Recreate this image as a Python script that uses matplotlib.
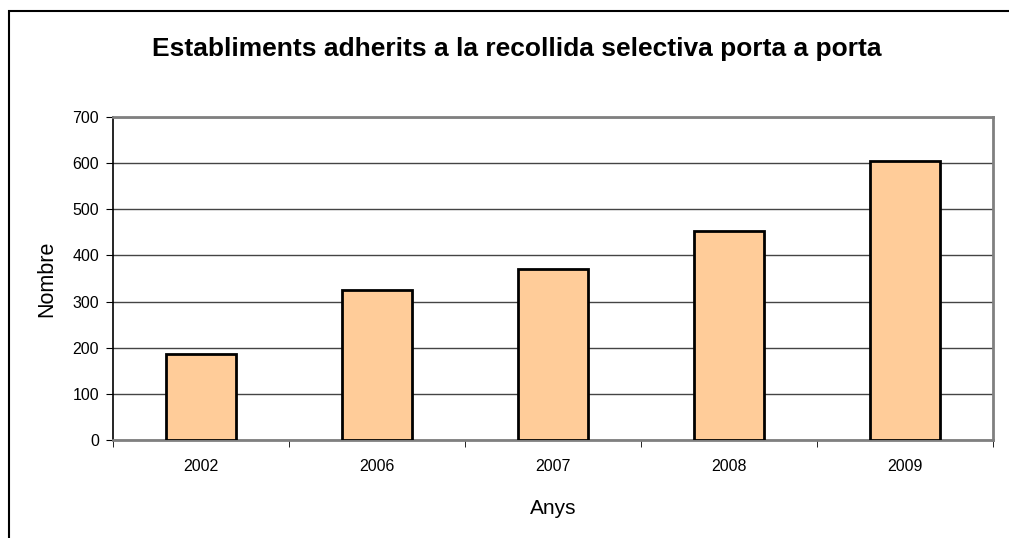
import matplotlib.pyplot as plt
import numpy as np
from matplotlib.patches import Rectangle

plt.rcParams['font.family'] = ['Liberation Sans', 'DejaVu Sans']

anys = ['2002', '2006', '2007', '2008', '2009']
establiments = [187, 325, 370, 453, 604]

fig = plt.figure(figsize=(10.09, 5.38), dpi=100)
ax = fig.add_axes([113 / 1009, 1 - 440 / 538, (993 - 113) / 1009, (440 - 117) / 538])

x = np.arange(len(anys))
ax.bar(x, establiments, width=0.4, color='#ffcc99', edgecolor='black', linewidth=2, zorder=3)

ax.set_xlim(-0.5, len(anys) - 0.5)
ax.set_ylim(0, 700)
ax.set_yticks(range(0, 701, 100))
ax.yaxis.grid(True, color='#444444', linewidth=1, zorder=0)

ax.set_xticks(x)
ax.set_xticklabels(anys)
ax.set_xticks(np.arange(-0.5, len(anys)), minor=True)
ax.tick_params(axis='x', which='major', length=0, pad=14, labelsize=11.5)
ax.tick_params(axis='x', which='minor', length=5, direction='out', color='black')
ax.tick_params(axis='y', length=5, direction='out', pad=5, labelsize=11.5)

for s in ['top', 'right']:
    ax.spines[s].set_color('#808080')
    ax.spines[s].set_linewidth(2)
ax.spines['left'].set_color('black')
ax.spines['bottom'].set_color('#808080')
ax.spines['left'].set_linewidth(1.2)
ax.spines['bottom'].set_linewidth(2)

ax.set_xlabel('Anys', fontsize=15, labelpad=18)
ax.set_ylabel('Nombre', fontsize=15.5, labelpad=11)

fig.text(0.512, 1 - 56 / 538, 'Establiments adherits a la recollida selectiva porta a porta',
         ha='center', va='baseline', fontsize=19, fontweight='bold')

# marc del grafic
fig.patches.append(Rectangle((9 / 1009, -0.1), 2, 1.1 - 11 / 538, transform=fig.transFigure,
                             fill=False, edgecolor='black', linewidth=1.5))

fig.savefig('out.png', dpi=100)
